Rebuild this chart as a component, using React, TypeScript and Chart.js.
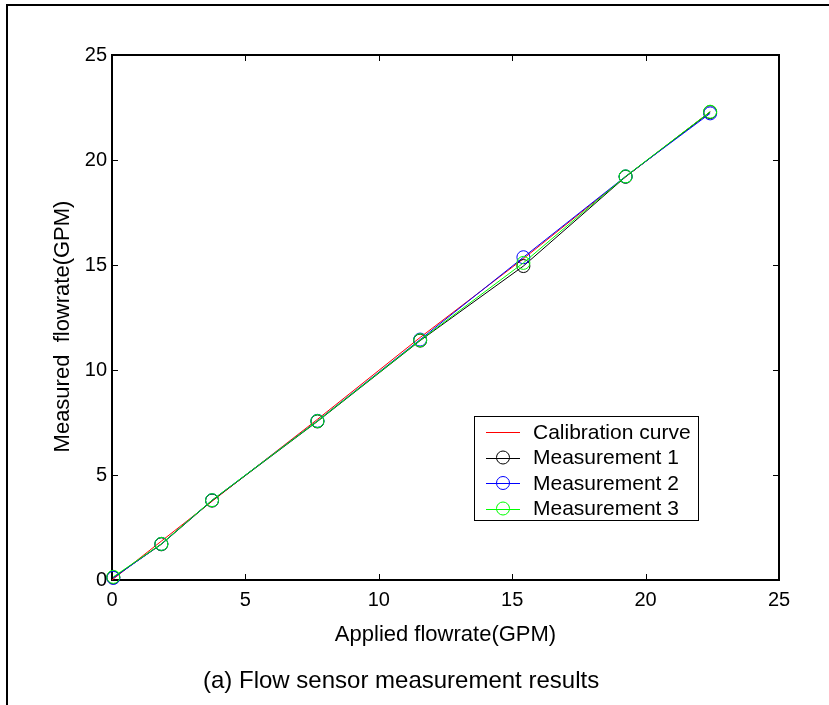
import React, { useEffect, useRef } from "react";
import { Chart, registerables } from "chart.js";

Chart.register(...registerables);

// ---- data ----
const appliedFlow = [0.05, 1.85, 3.75, 7.7, 11.55, 15.42, 19.25, 22.42];
const calibration = [0.0, 1.85, 3.75, 7.65, 11.55, 15.3, 19.2, 22.3];
const measurement1 = [0.12, 1.7, 3.78, 7.55, 11.4, 14.95, 19.2, 22.28];
const measurement2 = [0.1, 1.72, 3.8, 7.58, 11.45, 15.37, 19.22, 22.22];
const measurement3 = [0.15, 1.72, 3.8, 7.57, 11.42, 15.1, 19.22, 22.3];
const calibrationX = [0.0, 1.85, 3.75, 7.7, 11.55, 15.42, 19.25, 22.42];

const seriesNames = ["Calibration curve", "Measurement 1", "Measurement 2", "Measurement 3"];
const seriesColors = ["#ff0000", "#000000", "#0000ff", "#00ff00"];
const axisMin = 0;
const axisMax = 25;
const axisStep = 5;
const xTitle = "Applied flowrate(GPM)";
const yTitle = "Measured  flowrate(GPM)";
const caption = "(a) Flow sensor measurement results";

const FONT = "'Liberation Sans', Arial, Helvetica, sans-serif";

const toPoints = (xs: number[], ys: number[]) => xs.map((x, i) => ({ x, y: ys[i] }));

const decorPlugin = {
  id: "decor",
  beforeDraw(chart: any) {
    const ctx = chart.ctx;
    ctx.save();
    ctx.fillStyle = "#ffffff";
    ctx.fillRect(0, 0, chart.width, chart.height);
    ctx.fillStyle = "#000000";
    // outer figure frame (top and left edges visible)
    ctx.fillRect(6, 4, chart.width - 6, 2);
    ctx.fillRect(6, 4, 2, chart.height - 4);
    ctx.restore();
  },
  beforeDatasetsDraw(chart: any) {
    const ctx = chart.ctx;
    const { left, right, top, bottom } = chart.chartArea;
    const xs = chart.scales.x;
    const ys = chart.scales.y;
    ctx.save();
    ctx.strokeStyle = "#000000";
    ctx.lineWidth = 1;
    // inward tick marks on all four sides
    ctx.beginPath();
    xs.ticks.forEach((t: any) => {
      const px = Math.round(xs.getPixelForValue(t.value)) + 0.5;
      ctx.moveTo(px, bottom);
      ctx.lineTo(px, bottom - 6);
      ctx.moveTo(px, top);
      ctx.lineTo(px, top + 6);
    });
    ys.ticks.forEach((t: any) => {
      const py = Math.round(ys.getPixelForValue(t.value)) + 0.5;
      ctx.moveTo(left, py);
      ctx.lineTo(left + 6, py);
      ctx.moveTo(right, py);
      ctx.lineTo(right - 6, py);
    });
    ctx.stroke();
    // axes box
    ctx.lineWidth = 2;
    ctx.strokeRect(left, top, right - left, bottom - top);
    ctx.restore();
  },
  afterDraw(chart: any) {
    const ctx = chart.ctx;
    const { left, right, top, bottom } = chart.chartArea;
    ctx.save();
    ctx.fillStyle = "#000000";
    // x title
    ctx.font = `22px ${FONT}`;
    ctx.textAlign = "center";
    ctx.textBaseline = "alphabetic";
    ctx.fillText(xTitle, (left + right) / 2, bottom + 61);
    // y title
    ctx.save();
    ctx.translate(69, (top + bottom) / 2 + 9);
    ctx.rotate(-Math.PI / 2);
    ctx.fillText(yTitle, 0, 0);
    ctx.restore();
    // caption
    ctx.font = `24px ${FONT}`;
    ctx.textAlign = "left";
    ctx.fillText(caption, 203, bottom + 108);

    // legend
    const lx = 474, ly = 416, lw = 224, lh = 104;
    ctx.fillStyle = "#ffffff";
    ctx.fillRect(lx, ly, lw, lh);
    ctx.strokeStyle = "#000000";
    ctx.lineWidth = 1;
    ctx.strokeRect(lx + 0.5, ly + 0.5, lw, lh);
    ctx.font = `21px ${FONT}`;
    ctx.textBaseline = "middle";
    ctx.textAlign = "left";
    chart.data.datasets.forEach((ds: any, i: number) => {
      const cy = ly + 16 + i * 25.5;
      ctx.strokeStyle = ds.borderColor;
      ctx.lineWidth = 1;
      ctx.beginPath();
      ctx.moveTo(lx + 12, Math.round(cy) + 0.5);
      ctx.lineTo(lx + 46, Math.round(cy) + 0.5);
      ctx.stroke();
      if (ds.pointRadius > 0) {
        ctx.beginPath();
        ctx.arc(lx + 29, cy, ds.pointRadius, 0, Math.PI * 2);
        ctx.stroke();
      }
      ctx.fillStyle = "#000000";
      ctx.fillText(ds.label, lx + 59, cy + 1);
    });
    ctx.restore();
  },
};

export default function App() {
  const canvasRef = useRef<HTMLCanvasElement | null>(null);

  useEffect(() => {
    document.body.style.margin = "0";
    const canvas = canvasRef.current;
    if (!canvas) return;
    const ys = [calibration, measurement1, measurement2, measurement3];
    const orders = [3, 2, 1, 0];
    const datasets = ys.map((vals, i) => ({
      label: seriesNames[i],
      data: toPoints(i === 0 ? calibrationX : appliedFlow, vals),
      borderColor: seriesColors[i],
      backgroundColor: seriesColors[i],
      borderWidth: 1,
      pointRadius: i === 0 ? 0 : 6.5,
      pointHoverRadius: i === 0 ? 0 : 6.5,
      pointBorderWidth: 1,
      pointBorderColor: seriesColors[i],
      pointBackgroundColor: "rgba(0,0,0,0)",
      showLine: true,
      tension: 0,
      clip: false,
      order: orders[i],
    }));

    const tickFont = { family: FONT, size: 20 };
    const chart = new Chart(canvas, {
      type: "scatter",
      data: { datasets },
      options: {
        responsive: false,
        animation: false,
        devicePixelRatio: 1,
        layout: { padding: { left: 0, top: 55, right: 50, bottom: 0 } },
        plugins: { legend: { display: false }, tooltip: { enabled: false } },
        scales: {
          x: {
            type: "linear",
            position: "bottom",
            min: axisMin,
            max: axisMax,
            ticks: { stepSize: axisStep, font: tickFont, color: "#000", padding: 8, maxRotation: 0 },
            grid: { display: false, drawTicks: false },
            border: { display: false },
            afterFit: (s: any) => {
              s.height = 125;
            },
          },
          y: {
            type: "linear",
            position: "left",
            min: axisMin,
            max: axisMax,
            ticks: { stepSize: axisStep, font: tickFont, color: "#000", padding: 5 },
            grid: { display: false, drawTicks: false },
            border: { display: false },
            afterFit: (s: any) => {
              s.width = 112;
            },
          },
        },
      } as any,
      plugins: [decorPlugin],
    });
    return () => chart.destroy();
  }, []);

  return (
    <div style={{ position: "absolute", left: 0, top: 0, width: 829, height: 705 }}>
      <canvas ref={canvasRef} width={829} height={705} style={{ width: 829, height: 705, display: "block" }} />
    </div>
  );
}
